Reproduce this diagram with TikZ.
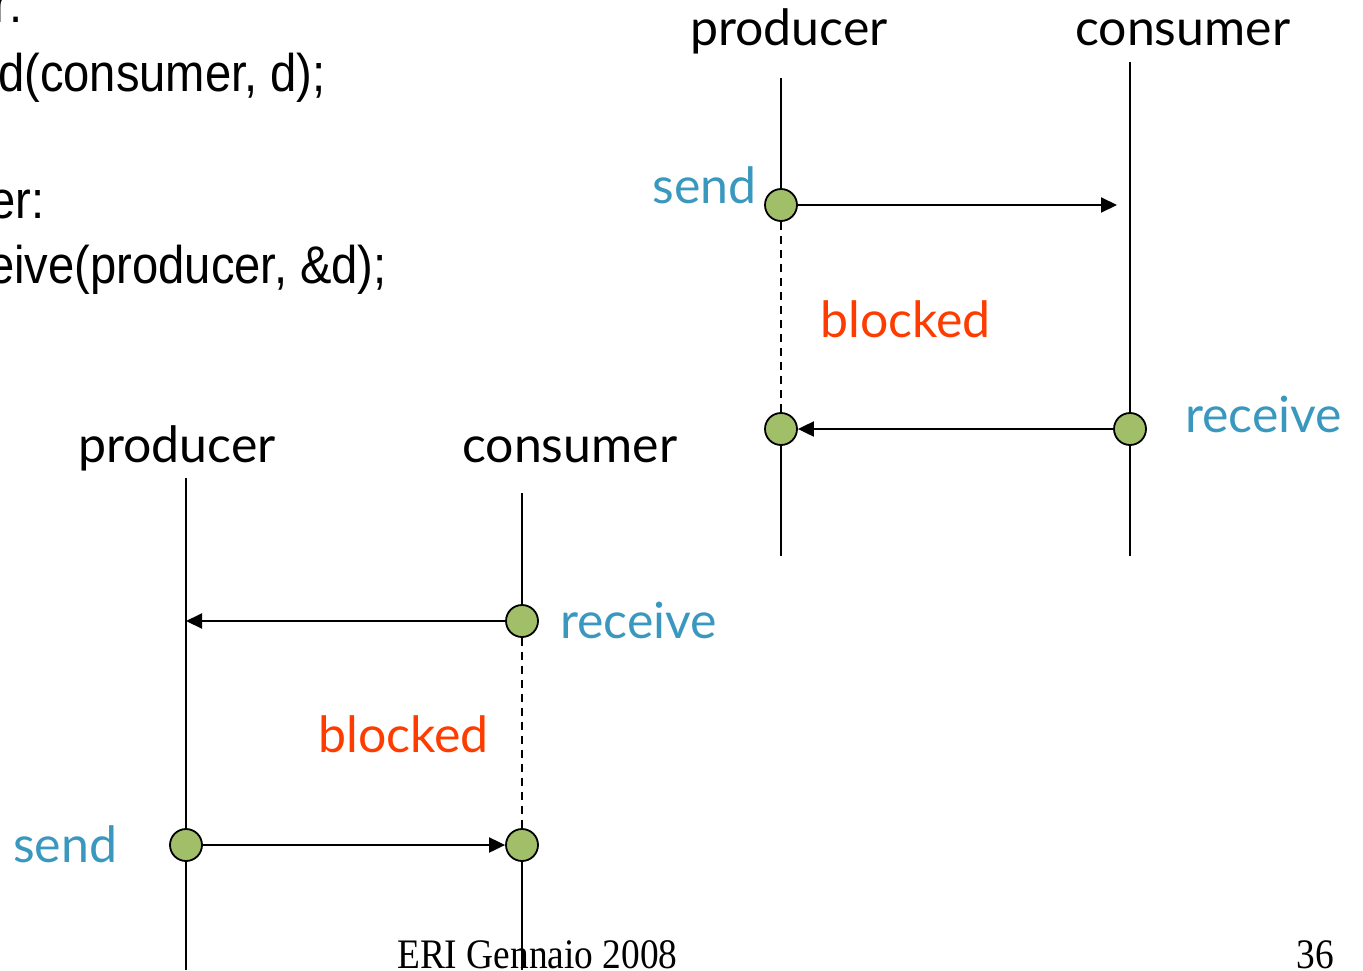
\documentclass[tikz,border=0pt]{standalone}
\usepackage{fontspec}
\usetikzlibrary{arrows.meta}
\newfontfamily\codefont[FakeStretch=0.89]{Liberation Sans}
\newfontfamily\handfont{Lato}
\newfontfamily\slidefont[FakeStretch=0.89]{Liberation Serif}
\definecolor{evgreen}{RGB}{161,190,105}
\definecolor{callblue}{RGB}{58,152,190}
\definecolor{blockred}{RGB}{255,60,0}

\begin{document}
\begin{tikzpicture}[x=1pt,y=-1pt,
    code/.style={anchor=base east,inner sep=0pt,font=\codefont\fontsize{53}{60}\selectfont},
    actor/.style={anchor=base west,inner sep=0pt,font=\handfont\fontsize{50}{56}\selectfont},
    call/.style={actor,text=callblue},
    blk/.style={actor,text=blockred},
    foot/.style={inner sep=0pt,font=\slidefont\fontsize{42}{48}\selectfont},
    event/.style={circle,draw=black,fill=evgreen,line width=1.8pt,minimum size=32pt,inner sep=0pt},
    life/.style={line width=1.5pt},
    msg/.style={line width=2pt,-{Triangle[length=16pt,width=15pt]}},
    wait/.style={line width=1.4pt,dash pattern=on 8pt off 6pt}]
  \useasboundingbox (0,0) rectangle (1363,970);

  % program text
  \node[code] (prodhead) at (23,22) {r:};
  \node[code] (prodcall) at (326,91) {d(consumer, d);};
  \node[code] (conshead) at (45,218) {er:};
  \node[code] (conscall) at (387,283) {eive(producer, \&d);};

  % send first
  \node[actor] (prodA) at (690,45) {producer};
  \node[actor] (consA) at (1075,45) {consumer};
  \node[call,anchor=base east] (sendA) at (757,203) {send};
  \node[blk] (blockA) at (820,337) {blocked};
  \node[call] (recvA) at (1185,432) {receive};
  \node[event] (evSendA) at (781,205) {};
  \node[event] (evDoneA) at (781,429) {};
  \node[event] (evRecvA) at (1130,429) {};
  \coordinate (prodAtop) at (781,78);
  \coordinate (prodAbot) at (781,556);
  \coordinate (consAtop) at (1130,62);
  \coordinate (consAbot) at (1130,556);
  \coordinate (consAhit) at (1117,205);
  \draw[life] (prodAtop) -- (evSendA);
  \draw[wait] (evSendA) -- (evDoneA);
  \draw[life] (evDoneA) -- (prodAbot);
  \draw[life] (consAtop) -- (evRecvA) -- (consAbot);
  \draw[msg] (evSendA) -- (consAhit);
  \draw[msg] (evRecvA) -- (evDoneA);

  % receive first
  \node[actor] (prodB) at (78,462) {producer};
  \node[actor] (consB) at (462,462) {consumer};
  \node[call] (recvB) at (560,638) {receive};
  \node[blk] (blockB) at (318,752) {blocked};
  \node[call] (sendB) at (13,862) {send};
  \node[event] (evRecvB) at (522,621) {};
  \node[event] (evSendB) at (186,845) {};
  \node[event] (evDoneB) at (522,845) {};
  \coordinate (prodBtop) at (186,478);
  \coordinate (prodBbot) at (186,970);
  \coordinate (consBtop) at (522,493);
  \coordinate (consBbot) at (522,970);
  \coordinate (prodBhit) at (186,621);
  \draw[life] (prodBtop) -- (evSendB) -- (prodBbot);
  \draw[life] (consBtop) -- (evRecvB);
  \draw[wait] (evRecvB) -- (evDoneB);
  \draw[life] (evDoneB) -- (consBbot);
  \draw[msg] (evRecvB) -- (prodBhit);
  \draw[msg] (evSendB) -- (evDoneB);

  \node[foot,anchor=base west] (footer) at (397,968) {ERI Gennaio 2008};
  \node[foot,anchor=base east] (pageno) at (1334,968) {36};
\end{tikzpicture}
\end{document}
